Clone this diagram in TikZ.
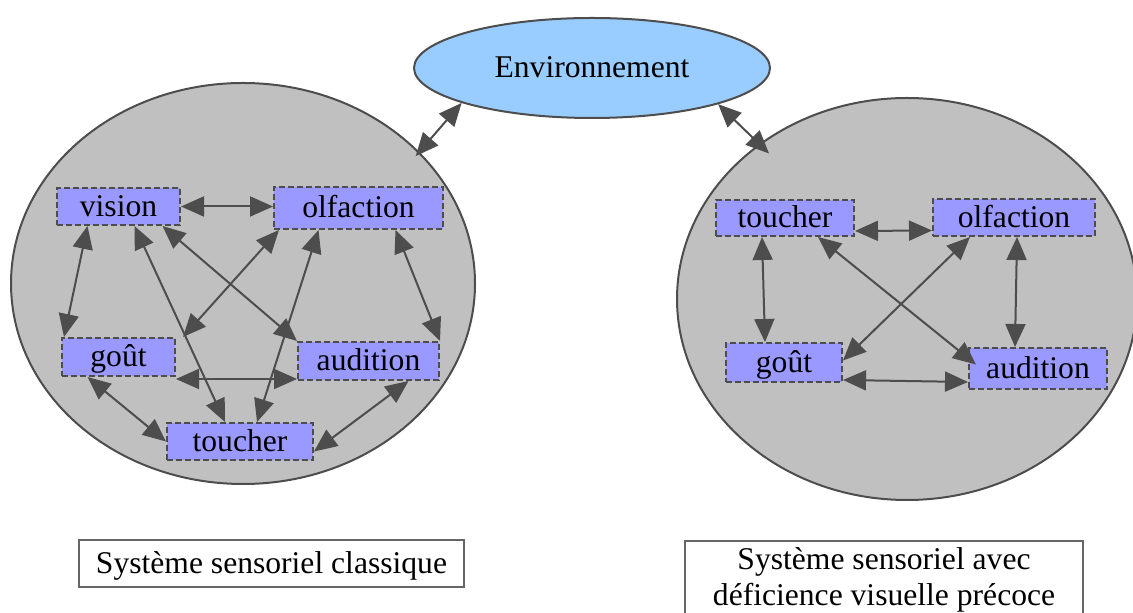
\documentclass[tikz,border=0pt]{standalone}
\usepackage{fontspec}
\setmainfont{Liberation Serif}
\usetikzlibrary{%
    arrows.meta,
    calc,
    positioning,
    shapes.geometric
}
\definecolor{edgegray}{HTML}{4D4D4D}
\definecolor{captiongray}{HTML}{666666}
\definecolor{systemfill}{HTML}{C0C0C0}
\definecolor{sensefill}{HTML}{9999FF}
\definecolor{envfill}{HTML}{99CCFF}
\tikzset{bothheads/.style = {{Triangle[length=11.5pt,width=10pt]}-{Triangle[length=11.5pt,width=10pt]}, draw=edgegray, line width=1pt}}
\tikzset{sensebox/.style = {draw=edgegray, dash pattern=on 3pt off 1.5pt, fill=sensefill, line width=1pt, inner sep=0pt, text height=11pt, text depth=1pt}}
\tikzset{system/.style = {ellipse, draw=edgegray, fill=systemfill, line width=1pt, inner sep=0pt}}
\tikzset{caption/.style = {draw=captiongray, line width=1pt, inner sep=0pt}}

\begin{document}
\begin{tikzpicture}[x=0.5pt, y=-0.5pt, font=\fontsize{15.8}{18.3}\selectfont]
    \useasboundingbox (0,0) rectangle (1133,613);

    \node (E) [ellipse, draw=edgegray, fill=envfill, line width=1pt, inner sep=0pt, minimum width=178pt, minimum height=50pt, text height=11pt, text depth=1pt] at (592,68) {Environnement};
    \node (L) [system, minimum width=232pt, minimum height=200.5pt] at (243,283.5) {};
    \node (R) [system, minimum width=230pt, minimum height=201pt] at (907,299) {};

    % classic system
    \node (V) [sensebox, minimum width=61.5pt, minimum height=18.5pt] at (118.5,206.5) {vision};
    \node (O) [sensebox, minimum width=84.5pt, minimum height=21pt] at (358.5,208) {olfaction};
    \node (G) [sensebox, minimum width=56.5pt, minimum height=19pt] at (118.5,357) {goût};
    \node (A) [sensebox, minimum width=70.5pt, minimum height=19pt] at (368.5,361) {audition};
    \node (T) [sensebox, minimum width=73pt, minimum height=18.5pt] at (240,441.5) {toucher};

    % early visual impairment
    \node (T2) [sensebox, minimum width=69pt, minimum height=18pt] at (785,218) {toucher};
    \node (O2) [sensebox, minimum width=81pt, minimum height=18.5pt] at (1014,217.5) {olfaction};
    \node (G2) [sensebox, minimum width=58pt, minimum height=19.5pt] at (784,362.5) {goût};
    \node (A2) [sensebox, minimum width=69pt, minimum height=20.5pt] at (1038,368.5) {audition};

    \node (CL) [caption, minimum width=192.5pt, minimum height=23.5pt, text height=11pt, text depth=1pt] at (271.5,563.5) {Système sensoriel classique};
    \node (CR) [caption, anchor=north, minimum width=199pt, minimum height=39pt, align=center] at (884,540) {Système sensoriel avec\\déficience visuelle précoce};

    \draw[bothheads] (E.195) -- ($(L.37)+(-3,5)$);
    \draw[bothheads] (E.344) -- ($(R.133)+(8,11)$);

    \draw[bothheads] (V.east) -- (V.east -| O.west);
    \draw[bothheads] ($(V.south)+(-31,0)$) -- ($(G.north west)+(3,0)$);
    \draw[bothheads] ($(V.south)+(16,0)$) -- ($(T.north)+(-15,0)$);
    \draw[bothheads] ($(V.south)+(44,0)$) -- (A.north west);
    \draw[bothheads] ($(O.south west)+(6,0)$) -- ($(G.north east)+(7,0)$);
    \draw[bothheads] ($(O.south)+(-40,0)$) -- ($(T.north)+(17,0)$);
    \draw[bothheads] ($(O.south)+(37,0)$) -- (A.north east);
    \draw[bothheads] ($(G.south east)+(0,2)$) -- ($(A.south west)+(0,-2)$);
    \draw[bothheads] ($(G.south)+(-31,0)$) -- (T.west);
    \draw[bothheads] ($(A.south)+(40,0)$) -- ($(T.east)+(0,10)$);

    \draw[bothheads] ($(T2.east)+(0,13)$) -- ($(O2.west)+(0,13)$);
    \draw[bothheads] ($(T2.south)+(-23,0)$) -- ($(G2.north)+(-19,0)$);
    \draw[bothheads] ($(T2.south)+(33,0)$) -- ($(A2.west)+(8,-4)$);
    \draw[bothheads] ($(O2.south)+(-44,0)$) -- ($(G2.east)+(0,-2)$);
    \draw[bothheads] ($(O2.south)+(3,0)$) -- ($(A2.north)+(-23,0)$);
    \draw[bothheads] ($(G2.south east)+(0,-3)$) -- ($(A2.south west)+(0,-8)$);
\end{tikzpicture}
\end{document}
